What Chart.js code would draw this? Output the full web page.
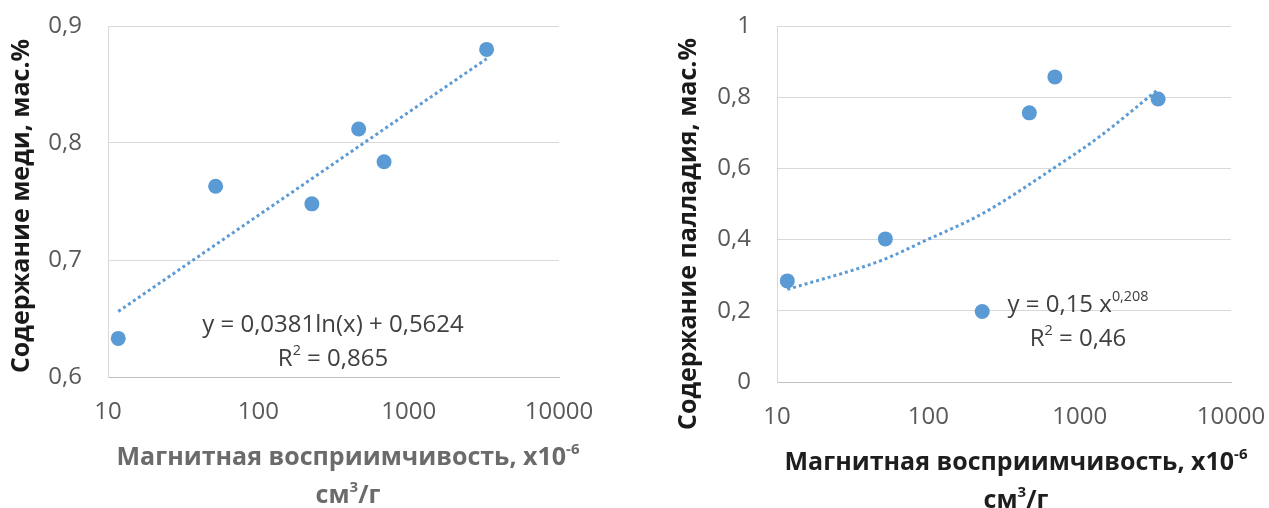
<!DOCTYPE html>
<html>
<head>
<meta charset="utf-8">
<script src="https://cdn.jsdelivr.net/npm/chart.js@4.4.1/dist/chart.umd.min.js"></script>
<style>
  body { margin: 0; background: #fff; width: 1269px; height: 508px; position: relative; overflow: hidden; }
  .box { position: absolute; top: 0; height: 508px; }
  #box1 { left: 0; width: 620px; }
  #box2 { left: 640px; width: 629px; }
</style>
</head>
<body>
<div class="box" id="box1"><canvas id="copperChart"></canvas></div>
<div class="box" id="box2"><canvas id="pdChart"></canvas></div>
<script>
// data
const xTicks = [10, 100, 1000, 10000];
const susceptibility = [11.7, 52, 227, 465, 686, 3300];
const copper = [0.633, 0.763, 0.748, 0.812, 0.784, 0.880];
const palladium = [0.284, 0.402, 0.198, 0.756, 0.857, 0.795];
const copperTicks = [0.6, 0.7, 0.8, 0.9];
const pdTicks = [0, 0.2, 0.4, 0.6, 0.8, 1];
const copperTrendX = [11.7, 3300];
const copperTrendY = [0.656, 0.872];
const pdTrendX = [11.7, 50, 92, 230, 670, 1360, 3300];
const pdTrendY = [0.26, 0.343, 0.394, 0.474, 0.600, 0.69, 0.822];

const blue = '#5b9bd5';
const family = '"Open Sans", sans-serif';

function toPoints(xs, ys) {
    return xs.map((x, i) => ({ x: x, y: ys[i] }));
}

function fmt(v) {
    return String(Math.round(v * 10) / 10).replace('.', ',');
}

// text with superscript pieces, centered at cx,cy
function drawRich(ctx, parts, cx, cy, size, weight, color) {
    const font = s => weight + ' ' + s + 'px ' + family;
    let total = 0;
    const widths = parts.map(p => {
        ctx.font = font(p[1] ? size * 0.6 : size);
        const w = ctx.measureText(p[0]).width;
        total += w;
        return w;
    });
    let x = cx - total / 2;
    ctx.fillStyle = color;
    ctx.textAlign = 'left';
    ctx.textBaseline = 'middle';
    parts.forEach((p, i) => {
        ctx.font = font(p[1] ? size * 0.6 : size);
        ctx.fillText(p[0], x, p[1] ? cy - size * 0.33 : cy);
        x += widths[i];
    });
}

function makeChart(id, o) {
    const labels = {
        id: 'labels',
        afterDraw(chart) {
            const ctx = chart.ctx;
            const a = chart.chartArea;
            ctx.save();
            // y title
            ctx.save();
            ctx.translate(o.yTitleX, o.yTitleY);
            ctx.rotate(-Math.PI / 2);
            drawRich(ctx, [[o.yTitle, false]], 0, 0, 25, 'bold', '#1a1a1a');
            ctx.restore();
            // x title
            const xc = a.left + o.xTitleDx;
            drawRich(ctx, [['Магнитная восприимчивость, x10', false], ['-6', true]], xc, a.bottom + 81, 25, 'bold', o.xTitleColor);
            drawRich(ctx, [['см', false], ['3', true], ['/г', false]], xc, a.bottom + 119, 25, 'bold', o.xTitleColor);
            // trendline equation
            const ec = a.left + o.eqDx;
            drawRich(ctx, o.eq1, ec, a.bottom - o.eqUp1, 24, 'normal', '#404040');
            drawRich(ctx, o.eq2, ec, a.bottom - o.eqUp2, 24, 'normal', '#404040');
            ctx.restore();
        }
    };

    return new Chart(document.getElementById(id), {
        type: 'scatter',
        data: {
            datasets: [
                {
                    data: toPoints(susceptibility, o.values),
                    pointRadius: 7.5,
                    pointHoverRadius: 7.5,
                    pointBackgroundColor: blue,
                    pointBorderWidth: 0,
                    showLine: false
                },
                {
                    data: toPoints(o.trendX, o.trendY),
                    showLine: true,
                    pointRadius: 0,
                    borderColor: blue,
                    borderWidth: 3,
                    borderDash: [3, 3],
                    cubicInterpolationMode: 'monotone'
                }
            ]
        },
        options: {
            responsive: true,
            maintainAspectRatio: false,
            animation: false,
            layout: { padding: { top: 26, right: o.padRight, left: 0, bottom: 0 } },
            plugins: { legend: { display: false }, tooltip: { enabled: false } },
            scales: {
                x: {
                    type: 'logarithmic',
                    min: 10,
                    max: 10000,
                    afterBuildTicks: s => { s.ticks = xTicks.map(v => ({ value: v })); },
                    afterFit: s => { s.height = o.xHeight; s.paddingLeft = 0; s.paddingRight = 0; },
                    grid: { display: false, drawTicks: false },
                    border: { display: true, color: '#bfbfbf', width: 1 },
                    ticks: {
                        padding: 21,
                        maxRotation: 0,
                        color: '#595959',
                        font: { family: family, size: 24 },
                        callback: v => String(v)
                    }
                },
                y: {
                    min: o.yTicks[0],
                    max: o.yTicks[o.yTicks.length - 1],
                    afterBuildTicks: s => { s.ticks = o.yTicks.map(v => ({ value: v })); },
                    afterFit: s => { s.width = o.yWidth; s.paddingTop = 0; s.paddingBottom = 0; },
                    grid: { color: '#d9d9d9', lineWidth: 1, drawTicks: false },
                    border: { display: true, color: '#d9d9d9', width: 1 },
                    ticks: {
                        padding: 26,
                        color: '#595959',
                        font: { family: family, size: 24 },
                        callback: v => fmt(v)
                    }
                }
            }
        },
        plugins: [labels]
    });
}

makeChart('copperChart', {
    values: copper,
    trendX: copperTrendX,
    trendY: copperTrendY,
    yTicks: copperTicks,
    yWidth: 108,
    xHeight: 131,
    padRight: 61,
    yTitle: 'Содержание меди, мас.%',
    yTitleX: 22,
    yTitleY: 206,
    xTitleDx: 240,
    xTitleColor: '#6b6b6b',
    eqDx: 225,
    eqUp1: 52,
    eqUp2: 18,
    eq1: [['y = 0,0381ln(x) + 0,5624', false]],
    eq2: [['R', false], ['2', true], [' = 0,865', false]]
});

makeChart('pdChart', {
    values: palladium,
    trendX: pdTrendX,
    trendY: pdTrendY,
    yTicks: pdTicks,
    yWidth: 137,
    xHeight: 126,
    padRight: 38,
    yTitle: 'Содержание палладия, мас.%',
    yTitleX: 49,
    yTitleY: 234,
    xTitleDx: 239,
    xTitleColor: '#1e1e1e',
    eqDx: 301,
    eqUp1: 77,
    eqUp2: 43,
    eq1: [['y = 0,15 x', false], ['0,208', true]],
    eq2: [['R', false], ['2', true], [' = 0,46', false]]
});
</script>
</body>
</html>
